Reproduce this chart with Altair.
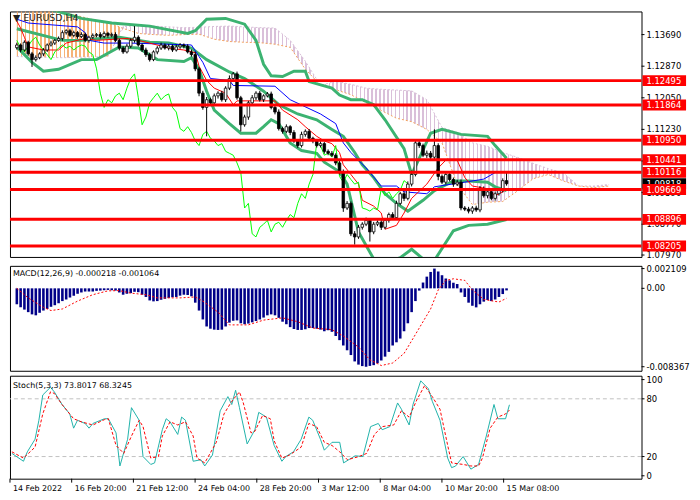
import altair as alt
import pandas as pd

# ---------------- data ----------------
bars = list(range(130))
open_ = [1.1335, 1.1342, 1.1329, 1.1349, 1.1319, 1.1304, 1.1309, 1.1319, 1.1329, 1.1342,
         1.1347, 1.1354, 1.1359, 1.1374, 1.1379, 1.1367, 1.1374, 1.1364, 1.1369, 1.1354,
         1.1362, 1.1367, 1.1369, 1.1364, 1.1372, 1.1367, 1.1369, 1.1354, 1.1334, 1.1324,
         1.1339, 1.1354, 1.1362, 1.1342, 1.1329, 1.1317, 1.1304, 1.1324, 1.1334, 1.1342,
         1.1334, 1.1339, 1.1329, 1.1337, 1.1342, 1.1339, 1.1324, 1.1317, 1.1280, 1.1217,
         1.1180, 1.1200, 1.1192, 1.1210, 1.1217, 1.1200, 1.1230, 1.1255, 1.1267, 1.1205,
         1.1135, 1.1155, 1.1192, 1.1205, 1.1217, 1.1200, 1.1210, 1.1215, 1.1180, 1.1168,
         1.1125, 1.1118, 1.1130, 1.1115, 1.1093, 1.1081, 1.1110, 1.1118, 1.1100, 1.1093,
         1.1081, 1.1086, 1.1066, 1.1061, 1.1056, 1.1036, 1.1011, 1.0919, 1.0931, 1.0852,
         1.0844, 1.0869, 1.0877, 1.0887, 1.0857, 1.0877, 1.0882, 1.0869, 1.0887, 1.0902,
         1.0894, 1.0931, 1.0956, 1.0944, 1.0981, 1.1006, 1.1088, 1.1081, 1.1056, 1.1061,
         1.1051, 1.1081, 1.1001, 1.0986, 1.1006, 1.0993, 1.0981, 1.0986, 1.0919, 1.0916,
         1.0911, 1.0919, 1.0914, 1.0969, 1.0951, 1.0961, 1.0944, 1.0956, 1.0965, 1.0990]
close = [1.1342, 1.1329, 1.1349, 1.1319, 1.1304, 1.1309, 1.1319, 1.1329, 1.1342, 1.1347,
         1.1354, 1.1359, 1.1374, 1.1379, 1.1367, 1.1374, 1.1364, 1.1369, 1.1354, 1.1362,
         1.1367, 1.1369, 1.1364, 1.1372, 1.1367, 1.1369, 1.1354, 1.1334, 1.1324, 1.1339,
         1.1354, 1.1362, 1.1342, 1.1329, 1.1317, 1.1304, 1.1324, 1.1334, 1.1342, 1.1334,
         1.1339, 1.1329, 1.1337, 1.1342, 1.1339, 1.1324, 1.1317, 1.1280, 1.1217, 1.1180,
         1.1200, 1.1192, 1.1210, 1.1217, 1.1200, 1.1230, 1.1255, 1.1267, 1.1205, 1.1135,
         1.1155, 1.1192, 1.1205, 1.1217, 1.1200, 1.1210, 1.1215, 1.1180, 1.1168, 1.1125,
         1.1118, 1.1130, 1.1115, 1.1093, 1.1081, 1.1110, 1.1118, 1.1100, 1.1093, 1.1081,
         1.1086, 1.1066, 1.1061, 1.1056, 1.1036, 1.1011, 1.0919, 1.0931, 1.0852, 1.0844,
         1.0869, 1.0877, 1.0887, 1.0857, 1.0877, 1.0882, 1.0869, 1.0887, 1.0902, 1.0894,
         1.0931, 1.0956, 1.0944, 1.0981, 1.1006, 1.1088, 1.1081, 1.1056, 1.1061, 1.1051,
         1.1081, 1.1001, 1.0986, 1.1006, 1.0993, 1.0981, 1.0986, 1.0919, 1.0916, 1.0911,
         1.0919, 1.0914, 1.0969, 1.0951, 1.0961, 1.0944, 1.0956, 1.0965, 1.0990, 1.0982]
up_wick = [0.0006, 0.0004, 0.0005, 0.0004, 0.0005, 0.0006, 0.0004, 0.0005, 0.0004, 0.0006,
           0.0004, 0.0005, 0.0006, 0.0004, 0.0005, 0.0005, 0.0004, 0.0006, 0.0005, 0.0004,
           0.0005, 0.0004, 0.0006, 0.0005, 0.0004, 0.0005, 0.0006, 0.0004, 0.0005, 0.0006,
           0.0005, 0.0029, 0.0005, 0.0004, 0.0006, 0.0005, 0.0004, 0.0005, 0.0006, 0.0004,
           0.0005, 0.0004, 0.0006, 0.0005, 0.0004, 0.0005, 0.0006, 0.0008, 0.0005, 0.0006,
           0.0007, 0.0005, 0.0006, 0.0005, 0.0006, 0.0005, 0.0008, 0.0005, 0.0006, 0.0005,
           0.0006, 0.0005, 0.0007, 0.0005, 0.0006, 0.0004, 0.0005, 0.0006, 0.0005, 0.0007,
           0.0005, 0.0006, 0.0004, 0.0006, 0.0005, 0.0007, 0.0005, 0.0006, 0.0004, 0.0005,
           0.0006, 0.0004, 0.0005, 0.0006, 0.0005, 0.0010, 0.0008, 0.0006, 0.0005, 0.0007,
           0.0006, 0.0005, 0.0007, 0.0005, 0.0006, 0.0005, 0.0007, 0.0006, 0.0005, 0.0006,
           0.0007, 0.0005, 0.0006, 0.0007, 0.0010, 0.0007, 0.0006, 0.0005, 0.0007, 0.0006,
           0.0042, 0.0006, 0.0005, 0.0007, 0.0006, 0.0005, 0.0006, 0.0007, 0.0005, 0.0006,
           0.0005, 0.0006, 0.0007, 0.0006, 0.0005, 0.0007, 0.0006, 0.0005, 0.0006, 0.0025]
dn_wick = [0.0005, 0.0006, 0.0004, 0.0005, 0.0019, 0.0005, 0.0004, 0.0006, 0.0005, 0.0004,
           0.0005, 0.0004, 0.0006, 0.0005, 0.0004, 0.0005, 0.0006, 0.0004, 0.0005, 0.0006,
           0.0004, 0.0005, 0.0005, 0.0004, 0.0006, 0.0005, 0.0004, 0.0006, 0.0005, 0.0004,
           0.0005, 0.0006, 0.0004, 0.0005, 0.0006, 0.0005, 0.0004, 0.0006, 0.0005, 0.0004,
           0.0006, 0.0005, 0.0004, 0.0005, 0.0006, 0.0004, 0.0005, 0.0006, 0.0008, 0.0006,
           0.0075, 0.0006, 0.0005, 0.0007, 0.0005, 0.0006, 0.0005, 0.0006, 0.0005, 0.0017,
           0.0005, 0.0007, 0.0005, 0.0006, 0.0005, 0.0006, 0.0004, 0.0005, 0.0006, 0.0005,
           0.0006, 0.0005, 0.0007, 0.0005, 0.0006, 0.0005, 0.0006, 0.0004, 0.0006, 0.0005,
           0.0005, 0.0006, 0.0005, 0.0004, 0.0006, 0.0005, 0.0010, 0.0005, 0.0006, 0.0020,
           0.0005, 0.0006, 0.0005, 0.0025, 0.0006, 0.0005, 0.0007, 0.0005, 0.0006, 0.0005,
           0.0006, 0.0005, 0.0007, 0.0005, 0.0006, 0.0005, 0.0006, 0.0005, 0.0007, 0.0005,
           0.0006, 0.0010, 0.0005, 0.0006, 0.0005, 0.0007, 0.0005, 0.0006, 0.0005, 0.0006,
           0.0007, 0.0005, 0.0006, 0.0005, 0.0007, 0.0005, 0.0006, 0.0005, 0.0006, 0.0005]

# Bollinger bands (sampled)
bb_up_x = [0, 11, 17, 25, 35, 45, 47, 50, 55, 60, 63, 65, 67, 70, 73, 76, 77, 83, 85, 88, 91, 94, 97, 102, 104, 106, 109, 112, 117, 124, 126, 129]
bb_up_y = [1.1454, 1.1429, 1.1411, 1.1399, 1.1391, 1.1372, 1.1379, 1.1409, 1.1411, 1.1396, 1.1354, 1.1292, 1.1262, 1.1260, 1.1274, 1.1274, 1.1247, 1.1230, 1.1212, 1.1200, 1.1200, 1.1187, 1.1148, 1.1073, 1.1006, 1.1048, 1.1113, 1.1123, 1.1110, 1.1105, 1.1081, 1.1048]
bb_mid_x = [0, 12, 17, 22, 27, 35, 40, 46, 50, 56, 60, 65, 69, 74, 79, 83, 86, 89, 91, 94, 97, 100, 103, 107, 110, 115, 119, 124, 126, 129]
bb_mid_y = [1.1384, 1.1354, 1.1354, 1.1359, 1.1362, 1.1349, 1.1347, 1.1334, 1.1304, 1.1272, 1.1255, 1.1222, 1.1187, 1.1163, 1.1148, 1.1123, 1.1105, 1.1063, 1.1031, 1.0998, 1.0956, 1.0931, 1.0911, 1.0939, 1.0964, 1.0989, 1.0989, 1.0986, 1.0974, 1.0964]
bb_lo_x = [0, 4, 7, 11, 17, 21, 27, 32, 37, 44, 46, 48, 50, 52, 56, 59, 63, 65, 67, 69, 72, 75, 79, 81, 85, 87, 90, 94, 98, 101, 104, 107, 110, 112, 115, 119, 124, 129]
bb_lo_y = [1.1337, 1.1297, 1.1274, 1.1279, 1.1304, 1.1304, 1.1337, 1.1334, 1.1304, 1.1299, 1.1309, 1.1279, 1.1222, 1.1173, 1.1138, 1.1113, 1.1113, 1.1130, 1.1148, 1.1138, 1.1088, 1.1068, 1.1061, 1.1038, 1.1013, 1.0981, 1.0857, 1.0787, 1.0780, 1.0790, 1.0812, 1.0787, 1.0783, 1.0814, 1.0860, 1.0874, 1.0877, 1.0889]

# Ichimoku: tenkan, kijun (sampled)
tenkan_x = [0, 1, 2, 3, 7, 11, 13, 18, 21, 29, 32, 35, 40, 44, 47, 48, 50, 52, 55, 57, 58, 68, 70, 74, 76, 79, 81, 83, 85, 86, 88, 90, 91, 94, 96, 97, 100, 102, 104, 108, 111, 113, 116, 118, 120, 124, 126, 128, 129]
tenkan_y = [1.1404, 1.1386, 1.1362, 1.1337, 1.1329, 1.1329, 1.1347, 1.1359, 1.1354, 1.1359, 1.1354, 1.1347, 1.1334, 1.1329, 1.1322, 1.1287, 1.1250, 1.1230, 1.1217, 1.1187, 1.1197, 1.1197, 1.1173, 1.1148, 1.1130, 1.1105, 1.1093, 1.1086, 1.1063, 1.1031, 1.1006, 1.0981, 1.0939, 1.0924, 1.0906, 1.0864, 1.0874, 1.0906, 1.0944, 1.0981, 1.1023, 1.1043, 1.1043, 1.0998, 1.0976, 1.0969, 1.0951, 1.0961, 1.0969]
kijun_x = [0, 3, 16, 18, 19, 23, 30, 46, 48, 49, 51, 56, 57, 68, 72, 80, 84, 86, 88, 92, 96, 100, 102, 108, 110, 118, 123, 126, 129]
kijun_y = [1.1409, 1.1399, 1.1389, 1.1374, 1.1354, 1.1347, 1.1347, 1.1342, 1.1312, 1.1297, 1.1255, 1.1250, 1.1237, 1.1235, 1.1200, 1.1163, 1.1138, 1.1088, 1.1063, 1.1023, 1.0976, 1.0976, 1.0961, 1.0956, 1.0974, 1.0986, 1.0994, 1.1011, 1.1011]
chikou_shift = 26

# Ichimoku cloud (senkou spans, sampled every 4 bars)
cloud_x = [0, 4, 8, 12, 16, 20, 24, 28, 32, 36, 40, 44, 48, 52, 56, 60, 64, 68, 72, 76,
           80, 84, 88, 92, 96, 100, 104, 108, 112, 116, 120, 124, 128, 132, 136, 140, 144, 148, 152, 156]
span_a = [1.1441, 1.1438, 1.1436, 1.1427, 1.1418, 1.1408, 1.1401, 1.1385, 1.1372, 1.1369,
          1.1367, 1.1369, 1.1370, 1.1357, 1.1351, 1.1349, 1.1348, 1.1344, 1.1336, 1.1279,
          1.1238, 1.1226, 1.1213, 1.1192, 1.1172, 1.1152, 1.1143, 1.1123, 1.1088, 1.0980,
          1.0928, 1.0934, 1.0936, 1.0964, 1.0995, 1.1006, 1.0989, 1.0976, 1.0972, 1.0976]
span_b = [1.1312, 1.1311, 1.1310, 1.1309, 1.1310, 1.1311, 1.1312, 1.1390, 1.1391, 1.1391,
          1.1389, 1.1387, 1.1388, 1.1390, 1.1391, 1.1389, 1.1387, 1.1386, 1.1354, 1.1300,
          1.1237, 1.1248, 1.1240, 1.1230, 1.1227, 1.1225, 1.1223, 1.1200, 1.1128, 1.1115,
          1.1088, 1.1079, 1.1063, 1.1050, 1.1035, 1.1021, 1.1010, 1.0976, 1.0976, 1.0980]

levels = [1.12495, 1.11864, 1.10950, 1.10441, 1.10116, 1.09669, 1.08896, 1.08205]
price_now = [1.09818]
price_ticks = [1.13690, 1.12870, 1.12050, 1.11230, 1.10410, 1.09590, 1.08770, 1.07970]

# MACD
macd_hist = [-0.00170, -0.00203, -0.00227, -0.00254, -0.00278, -0.00288, -0.00261, -0.00237, -0.00220, -0.00197,
             -0.00180, -0.00159, -0.00136, -0.00119, -0.00098, -0.00078, -0.00058, -0.00044, -0.00034, -0.00034,
             -0.00034, -0.00027, -0.00024, -0.00020, -0.00017, -0.00020, -0.00024, -0.00044, -0.00068, -0.00058,
             -0.00051, -0.00037, -0.00041, -0.00068, -0.00092, -0.00129, -0.00139, -0.00136, -0.00122, -0.00112,
             -0.00102, -0.00095, -0.00092, -0.00078, -0.00068, -0.00071, -0.00085, -0.00153, -0.00237, -0.00332,
             -0.00407, -0.00431, -0.00441, -0.00444, -0.00441, -0.00407, -0.00366, -0.00346, -0.00342, -0.00373,
             -0.00383, -0.00376, -0.00363, -0.00349, -0.00332, -0.00312, -0.00288, -0.00278, -0.00288, -0.00315,
             -0.00356, -0.00383, -0.00414, -0.00434, -0.00444, -0.00444, -0.00437, -0.00424, -0.00424, -0.00431,
             -0.00441, -0.00458, -0.00447, -0.00464, -0.00509, -0.00553, -0.00610, -0.00661, -0.00712, -0.00780,
             -0.00814, -0.00830, -0.00837, -0.00828, -0.00820, -0.00800, -0.00770, -0.00729, -0.00678, -0.00610,
             -0.00576, -0.00536, -0.00458, -0.00373, -0.00254, -0.00136, -0.00024, 0.00062, 0.00125, 0.00175,
             0.00211, 0.00180, 0.00140, 0.00105, 0.00085, 0.00060, 0.00046, -0.00044, -0.00092, -0.00153,
             -0.00186, -0.00203, -0.00170, -0.00142, -0.00125, -0.00136, -0.00119, -0.00092, -0.00061, -0.00022]
macd_sig_x = [0, 3, 7, 9, 12, 16, 20, 24, 27, 30, 34, 37, 43, 47, 49, 53, 56, 61, 65, 70,
              74, 78, 83, 86, 90, 93, 96, 99, 102, 105, 109, 111, 113, 115, 118, 120, 123, 127, 129]
macd_sig_y = [0.0, -0.00102, -0.00203, -0.00237, -0.00220, -0.00136, -0.00068, -0.00027, -0.00024, -0.00051,
              -0.00068, -0.00102, -0.00102, -0.00092, -0.00136, -0.00254, -0.00390, -0.00390, -0.00339, -0.00315,
              -0.00356, -0.00424, -0.00441, -0.00509, -0.00627, -0.00763, -0.00824, -0.00797, -0.00695, -0.00492,
              -0.00220, -0.00017, 0.00085, 0.00102, 0.00085, -0.00017, -0.00119, -0.00146, -0.00106]
macd_ticks = [0.002109, 0.0, -0.008367]
macd_tick_labels = ["0.002109", "0.00", "-0.008367"]

# Stochastic
stk_x = [0, 3, 4, 6, 7, 8, 10, 11, 13, 15, 16, 17, 19, 20, 21, 24, 25, 27, 28, 30, 31, 33, 34, 36, 37, 39, 40, 41, 43, 44,
         45, 47, 49, 50, 52, 54, 56, 57, 58, 59, 61, 63, 64, 66, 68, 70, 71, 73, 75, 77, 78, 80, 81, 83, 85, 86, 89, 91, 93, 95,
         96, 98, 100, 101, 103, 104, 106, 108, 109, 111, 113, 114, 115, 117, 118, 119, 121, 123, 125, 126, 128, 129]
stk_y = [23.3, 15.1, 24.9, 38, 57.7, 84, 92, 87.2, 74.1, 64.3, 49.5, 57.7, 54.4, 49.5, 54.4, 59.3, 59.3, 44.6, 10.2, 38,
         70.8, 57.7, 20, 11.8, 13.4, 47.9, 59.3, 56.1, 43, 61, 57.7, 15.1, 16.7, 10.2, 21.6, 67.5, 82.3, 74.1, 88.9, 70.8,
         33.1, 47.9, 65.9, 61, 31.5, 15.1, 20, 24.9, 38, 61, 57.7, 38, 26.6, 34.8, 34.8, 13.4, 20.8, 20, 51.1, 54.4,
         47.9, 51.1, 75.7, 69.2, 52.8, 74.1, 98.7, 90.5, 77.4, 57.7, 18.4, 8.5, 10, 20, 13.4, 6.9, 11.8, 41.3, 74.1, 59.3,
         59.3, 73.8]
std_x = [0, 3, 6, 8, 10, 11, 13, 16, 18, 21, 24, 25, 27, 29, 31, 33, 34, 36, 38, 39, 41, 43, 45, 47, 48, 50, 53, 55, 57, 59,
         60, 62, 63, 65, 67, 68, 70, 72, 75, 77, 79, 81, 83, 85, 87, 90, 92, 94, 96, 99, 101, 103, 105, 107, 109, 111, 113, 114, 117, 119,
         121, 122, 124, 126, 128, 129]
std_y = [24.9, 18.4, 29.8, 64.3, 87.2, 85.6, 74.1, 59.3, 56.1, 52.8, 58.4, 59.3, 31.5, 23.3, 41.3, 57.7, 51.1, 18.4, 20, 41.3,
         56.1, 52.8, 56.1, 41.3, 18.4, 13.4, 34.8, 64.3, 77.4, 87.2, 75.7, 44.6, 46.3, 62.6, 59.3, 36.4, 18.4, 21.6, 29.8, 54.4,
         51.1, 34.8, 31.5, 24.9, 16.7, 20, 23.3, 43, 51.1, 52.8, 67.5, 61, 79, 93.6, 82.3, 69.2, 31.5, 13.4, 11.8, 10.2,
         10.2, 18.4, 49.5, 61, 64.3, 68.3]
stoch_levels = [20, 80]
stoch_ticks = [100, 80, 20, 0]

time_tick_pos = [-0.5, 15.5, 31.5, 47.5, 63.5, 79.5, 95.5, 111.5, 127.5]
time_labels = ["14 Feb 2022", "16 Feb 20:00", "21 Feb 12:00", "24 Feb 04:00", "28 Feb 20:00",
               "3 Mar 12:00", "8 Mar 04:00", "10 Mar 20:00", "15 Mar 08:00"]

# ---------------- layout / style ----------------
W = 638
H1, H2, H3 = 248, 106, 104
FONT = "DejaVu Sans"
AX = 8.5
XS = alt.Scale(domain=[-0.5, 163.25], nice=False, zero=False)
YS = alt.Scale(domain=[1.0792, 1.1429], nice=False, zero=False)
MS = alt.Scale(domain=[-0.0088, 0.0024], nice=False, zero=False)
SS = alt.Scale(domain=[-3, 104], nice=False, zero=False)


def X(field="bar"):
    return alt.X(f"{field}:Q", scale=XS, axis=None, title=None)


def Y(field, scale):
    return alt.Y(f"{field}:Q", scale=scale, axis=None, title=None)


def stripes(rgba, n=152, frac=0.4):
    stops = []
    clear = "rgba(255,255,255,0)"
    for k in range(n):
        a, b, c = k / n, (k + frac) / n, (k + 1) / n
        stops += [alt.GradientStop(offset=a, color=rgba), alt.GradientStop(offset=b, color=rgba),
                  alt.GradientStop(offset=b, color=clear), alt.GradientStop(offset=c, color=clear)]
    return alt.LinearGradient(gradient="linear", stops=stops, x1=0, x2=1, y1=0, y2=0)


def right_axis(df, field, scale, text_field=None, fmt=None):
    ticks = alt.Chart(df).mark_rule(color="black", strokeWidth=1).encode(
        y=Y(field, scale), x=alt.value(W), x2=alt.value(W + 3))
    if text_field is not None:
        txt = alt.Text(f"{text_field}:N")
    else:
        txt = alt.Text(f"{field}:Q", format=fmt)
    labels = alt.Chart(df).mark_text(align="left", baseline="middle", font=FONT, fontSize=AX,
                                     color="black").encode(y=Y(field, scale), x=alt.value(W + 5), text=txt)
    return [ticks, labels]


one = pd.DataFrame({"k": [0]})

# ---------------- main panel ----------------
candles = pd.DataFrame({"bar": bars, "open": open_, "close": close, "up": up_wick, "dn": dn_wick})
cloud = pd.DataFrame({"bar": cloud_x, "a": span_a, "b": span_b})
bb = pd.concat([
    pd.DataFrame({"bar": bb_up_x, "v": bb_up_y, "s": "up"}),
    pd.DataFrame({"bar": bb_mid_x, "v": bb_mid_y, "s": "mid"}),
    pd.DataFrame({"bar": bb_lo_x, "v": bb_lo_y, "s": "lo"}),
])
ichi = pd.concat([
    pd.DataFrame({"bar": kijun_x, "v": kijun_y, "s": "kijun"}),
    pd.DataFrame({"bar": tenkan_x, "v": tenkan_y, "s": "tenkan"}),
    pd.DataFrame({"bar": bars[:len(bars) - chikou_shift], "v": close[chikou_shift:], "s": "chikou"}),
])
lv = pd.DataFrame({"lvl": levels})
now = pd.DataFrame({"lvl": price_now})
pt = pd.DataFrame({"p": price_ticks})

cloud_base = alt.Chart(cloud).transform_calculate(lo="min(datum.a, datum.b)")
cloud_or = cloud_base.mark_area(fill=stripes("rgba(244,164,96,0.85)"), clip=True).encode(
    x=X(), y=Y("a", YS), y2="lo:Q")
cloud_th = cloud_base.mark_area(fill=stripes("rgba(205,170,205,0.75)"), clip=True).encode(
    x=X(), y=Y("b", YS), y2="lo:Q")
span_a_line = alt.Chart(cloud).mark_line(color="#F4A460", strokeWidth=1, strokeDash=[2, 2], clip=True).encode(
    x=X(), y=Y("a", YS))
span_b_line = alt.Chart(cloud).mark_line(color="#D8BFD8", strokeWidth=1, strokeDash=[2, 2], clip=True).encode(
    x=X(), y=Y("b", YS))

bb_lines = alt.Chart(bb).mark_line(color="#3CB371", strokeWidth=3, clip=True).encode(
    x=X(), y=Y("v", YS), detail="s:N")
ichi_lines = alt.Chart(ichi).mark_line(strokeWidth=1, clip=True).encode(
    x=X(), y=Y("v", YS),
    color=alt.Color("s:N", scale=alt.Scale(domain=["kijun", "tenkan", "chikou"],
                                           range=["#0000FF", "#FF0000", "#00FF00"]), legend=None))

cbase = alt.Chart(candles).transform_calculate(
    high="max(datum.open, datum.close) + datum.up",
    low="min(datum.open, datum.close) - datum.dn")
wicks = cbase.mark_rule(color="black", strokeWidth=1).encode(x=X(), y=Y("low", YS), y2="high:Q")
bodies = cbase.mark_bar(width=2.6, stroke="black", strokeWidth=0.8).encode(
    x=X(), y=Y("open", YS), y2="close:Q",
    fill=alt.condition("datum.close >= datum.open", alt.value("white"), alt.value("black")))

level_lines = alt.Chart(lv).mark_rule(color="#FF0000", strokeWidth=3).encode(y=Y("lvl", YS))


def price_box(df, color):
    box = alt.Chart(df).mark_rule(color=color, strokeWidth=11, strokeCap="butt").encode(
        y=Y("lvl", YS), x=alt.value(W + 1), x2=alt.value(W + 45))
    txt = alt.Chart(df).mark_text(align="left", baseline="middle", color="white", font=FONT, fontSize=AX).encode(
        y=Y("lvl", YS), x=alt.value(W + 5), text=alt.Text("lvl:Q", format=".5f"))
    return [box, txt]


title = alt.Chart(one).mark_text(text="▼ EURUSD,H4", align="left", baseline="middle", font=FONT,
                                 fontSize=9.5, color="#222222").encode(x=alt.value(3), y=alt.value(7))

main = alt.layer(cloud_or, cloud_th, span_a_line, span_b_line, bb_lines, ichi_lines,
                 wicks, bodies, level_lines, *right_axis(pt, "p", YS, fmt=".5f"),
                 *price_box(now, "black"), *price_box(lv, "#FF0000"), title
                 ).properties(width=W, height=H1)

# ---------------- MACD panel ----------------
mh = pd.DataFrame({"bar": bars, "h": macd_hist})
ms = pd.DataFrame({"bar": macd_sig_x, "v": macd_sig_y})
mt = pd.DataFrame({"v": macd_ticks, "lab": macd_tick_labels})
hist = alt.Chart(mh).transform_calculate(z="0").mark_bar(width=2.6, color="#000088").encode(
    x=X(), y=Y("h", MS), y2="z:Q")
sig = alt.Chart(ms).mark_line(color="#FF0000", strokeWidth=1, strokeDash=[2, 2]).encode(x=X(), y=Y("v", MS))
macd_lbl = alt.Chart(one).mark_text(text="MACD(12,26,9) -0.000218 -0.001064", align="left", baseline="middle",
                                    font=FONT, fontSize=8, color="black").encode(x=alt.value(3), y=alt.value(8))
macd = alt.layer(hist, sig, *right_axis(mt, "v", MS, text_field="lab"), macd_lbl).properties(width=W, height=H2)

# ---------------- Stochastic panel ----------------
sk = pd.DataFrame({"bar": stk_x, "v": stk_y})
sd = pd.DataFrame({"bar": std_x, "v": std_y})
sl = pd.DataFrame({"lvl": stoch_levels})
st = pd.DataFrame({"v": stoch_ticks})
tt = pd.DataFrame({"bar": time_tick_pos, "lab": time_labels})
s_lv = alt.Chart(sl).mark_rule(color="#C0C0C0", strokeWidth=1, strokeDash=[4, 3]).encode(y=Y("lvl", SS))
k_line = alt.Chart(sk).mark_line(color="#20B2AA", strokeWidth=1).encode(x=X(), y=Y("v", SS))
d_line = alt.Chart(sd).mark_line(color="#FF0000", strokeWidth=1, strokeDash=[3, 2]).encode(x=X(), y=Y("v", SS))
stoch_lbl = alt.Chart(one).mark_text(text="Stoch(5,3,3) 73.8017 68.3245", align="left", baseline="middle",
                                     font=FONT, fontSize=8, color="black").encode(x=alt.value(3), y=alt.value(10))
t_ticks = alt.Chart(tt).mark_rule(color="black", strokeWidth=1).encode(
    x=X(), y=alt.value(H3), y2=alt.value(H3 + 4))
t_labels = alt.Chart(tt).mark_text(align="left", baseline="middle", dx=3, font=FONT, fontSize=8,
                                   color="black").encode(x=X(), y=alt.value(H3 + 10), text="lab:N")
stoch = alt.layer(s_lv, k_line, d_line, *right_axis(st, "v", SS, fmt="d"), t_ticks, t_labels,
                  stoch_lbl).properties(width=W, height=H3)

chart = alt.vconcat(main, macd, stoch, spacing=3).properties(padding=0).configure_view(
    stroke="black", strokeWidth=1)

chart.save("out.html", embed_options={"renderer": "svg", "actions": False})
